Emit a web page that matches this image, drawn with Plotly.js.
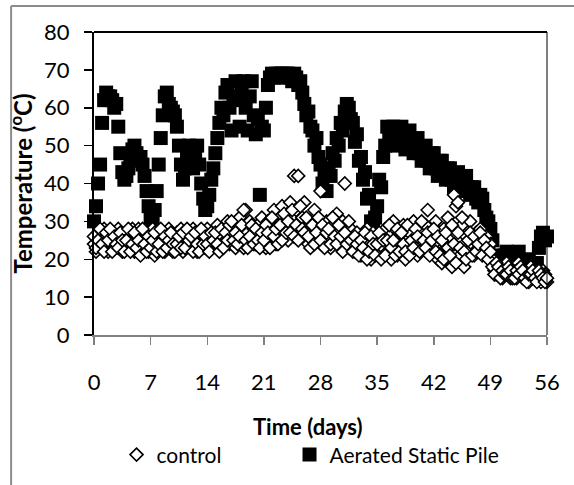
<!DOCTYPE html>
<html><head><meta charset="utf-8">
<script src="https://cdn.plot.ly/plotly-3.0.1.min.js"></script>
<style>html,body{margin:0;padding:0;background:#fff;}#chart{width:574px;height:485px;}</style>
</head><body><div id="chart"></div>
<script>
// readings every 6 hours (0.25 day), day 0 .. day 56
const SAMPLE_STEP_DAYS = 0.25;

const aspTemp = [
  30,34,40,45, 56,62,64,63, 63,62,60,61, 55,48,43,41, 42,44,47,49,
  50,48,46,47, 45,42,38,34, 31,30,33,38, 45,52,58,63, 64,61,60,59,
  58,55,50,45, 41,44,48,50, 47,44,48,50, 45,40,36,33, 34,37,41,44,
  48,52,56,60, 58,64,66,60, 54,62,67,63, 55,66,67,60, 54,63,67,58,
  53,57,37,55, 54,60,66,68, 69,68,69,68, 69,69,68,69, 69,68,67,69,
  68,66,67,64, 61,58,59,55, 54,50,52,47, 45,40,42,38, 44,42,48,46,
  52,50,56,54, 59,61,60,57, 56,51,53,46, 47,41,43,36, 37,30,28,31,
  34,41,39,47, 50,55,53,51, 55,52,50,53, 55,51,49,52, 54,50,48,51,
  52,48,46,49, 50,46,44,48, 48,44,42,46, 46,43,41,44, 44,41,39,42,
  43,40,38,41, 42,39,37,39, 39,36,35,37, 36,33,31,30, 28,25,21,18,
  17,16,18,21, 22,19,17,16, 18,21,22,19, 17,16,18,20, 19,17,16,19,
  23,26,27,25, 26
];

// control pile, probe A
const controlTempA = [
  24,22,27,25, 23,28,26,22, 25,27,23,26, 28,24,22,26, 27,23,25,28,
  22,26,28,24, 23,27,25,22, 26,28,21,24, 27,23,25,22, 26,28,24,22,
  25,27,23,28, 22,26,24,27, 23,28,25,22, 27,24,26,23, 28,25,23,27,
  24,29,26,23, 28,25,30,24, 26,29,23,28, 31,24,23,33, 27,30,25,28,
  24,29,26,31, 27,23,30,25, 28,33,24,29, 26,34,27,30, 25,35,29,42,
  33,42,27,31, 35,28,24,30, 26,33,29,25, 38,27,24,30, 26,23,29,25,
  32,27,24,30, 40,26,23,28, 25,22,27,24, 21,26,23,28, 24,20,27,22,
  26,21,25,23, 28,22,26,20, 30,24,21,27, 23,29,20,25, 27,22,30,24,
  21,28,25,23, 29,33,22,26, 24,30,20,27, 19,28,23,31, 25,18,37,34,
  35,21,29,18, 26,22,30,24, 21,27,23,28, 25,22,26,23, 24,20,17,18,
  16,18,15,17, 19,16,15,18, 17,15,19,16, 15,17,16,14, 18,15,16,17,
  15,14,17,16, 14
];

// control pile, probe B
const controlTempB = [
  26,23,25,28, 24,22,27,25, 28,22,26,24, 23,27,25,22, 25,28,22,24,
  27,23,25,21, 28,24,22,26, 23,25,27,22, 24,28,22,26, 23,25,27,24,
  22,24,26,23, 27,23,28,25, 26,22,27,24, 22,28,24,26, 24,22,27,25,
  27,24,22,28, 23,27,25,29, 30,25,27,24, 26,29,33,25, 23,26,29,24,
  28,25,23,27, 25,29,27,23, 31,26,28,24, 29,25,32,27, 30,27,33,26,
  29,25,34,28, 27,31,26,23, 29,24,27,31, 25,29,23,27, 28,24,31,26,
  24,29,26,22, 27,24,30,25, 22,26,24,21, 25,23,27,20, 22,26,24,21,
  24,27,20,25, 21,25,29,23, 25,21,28,22, 27,24,22,29, 21,25,23,28,
  26,22,30,25, 23,27,21,25, 28,22,26,21, 25,20,27,23, 21,29,24,19,
  27,23,31,22, 20,25,27,21, 26,22,24,27, 21,25,23,20, 22,18,16,19,
  18,15,17,16, 16,18,17,15, 15,17,16,18, 17,15,14,16, 16,17,15,14,
  17,16,15,14, 15
];

const seriesNames = ['control', 'Aerated Static Pile'];
const xTickVals = [0, 7, 14, 21, 28, 35, 42, 49, 56];
const yTickVals = [0, 10, 20, 30, 40, 50, 60, 70, 80];
const xTitle = 'Time (days)';
const yTitle = 'Temperature (<sup>o</sup>C)';

const aspDays = aspTemp.map((_, i) => i * SAMPLE_STEP_DAYS);
const controlDays = controlTempA.map((_, i) => i * SAMPLE_STEP_DAYS)
  .concat(controlTempB.map((_, i) => i * SAMPLE_STEP_DAYS));
const controlTemp = controlTempA.concat(controlTempB);

const FONT = 'Lato, "Open Sans", "DejaVu Sans", sans-serif';

const traces = [
  {
    type: 'scatter', mode: 'markers', name: seriesNames[1],
    x: aspDays, y: aspTemp, cliponaxis: false,
    marker: {symbol: 'square', size: 14, color: '#000000', line: {width: 0}}
  },
  {
    type: 'scatter', mode: 'markers', name: seriesNames[0],
    x: controlDays, y: controlTemp, cliponaxis: false, legendwidth: 128,
    marker: {symbol: 'diamond', size: 10, color: '#ffffff', line: {color: '#000000', width: 1.6}}
  }
];

const layout = {
  width: 574, height: 485,
  margin: {l: 94, r: 27, t: 32, b: 150, pad: 0},
  paper_bgcolor: '#ffffff', plot_bgcolor: '#ffffff',
  font: {family: FONT, color: '#000000', size: 20},
  showlegend: true,
  legend: {
    orientation: 'h', xref: 'container', yref: 'container',
    x: 0.203, xanchor: 'left', y: 0.062, yanchor: 'middle',
    traceorder: 'reversed', itemwidth: 30,
    font: {family: FONT, size: 21, color: '#000000'},
    bgcolor: 'rgba(0,0,0,0)'
  },
  xaxis: {
    range: [0, 56], tickvals: xTickVals, ticktext: xTickVals.map(String),
    ticks: 'outside', ticklen: 8, tickwidth: 1.5, tickcolor: '#808080',
    showline: true, linecolor: '#808080', linewidth: 1.5,
    showgrid: false, zeroline: false,
    tickfont: {family: FONT, size: 22, color: '#000000'},
    ticklabelstandoff: 19
  },
  yaxis: {
    range: [0, 80], tickvals: yTickVals, ticktext: yTickVals.map(String),
    ticks: 'outside', ticklen: 8, tickwidth: 1.5, tickcolor: '#000000',
    showline: true, linecolor: '#000000', linewidth: 2,
    showgrid: false, zeroline: false,
    tickfont: {family: FONT, size: 22, color: '#000000'},
    ticklabelstandoff: 10,
    title: {text: yTitle, font: {family: FONT, size: 24, weight: 'bold', color: '#000000'}, standoff: 5}
  },
  annotations: [
    {text: xTitle, xref: 'paper', yref: 'paper', x: 0.4724, y: -0.3036,
     xanchor: 'center', yanchor: 'middle', showarrow: false,
     font: {family: FONT, size: 22, weight: 'bold', color: '#000000'}}
  ],
  shapes: [
    {type: 'line', xref: 'paper', yref: 'paper', x0: 0, x1: 1, y0: 1, y1: 1, line: {color: '#000000', width: 2}},
    {type: 'line', xref: 'paper', yref: 'paper', x0: 1, x1: 1, y0: 0, y1: 1, line: {color: '#000000', width: 1}},
    {type: 'line', xref: 'paper', yref: 'paper', x0: -0.183, x1: -0.183, y0: -0.5, y1: 1.086, line: {color: '#8c8c8c', width: 2}},
    {type: 'line', xref: 'paper', yref: 'paper', x0: -0.183, x1: 1.07, y0: 1.086, y1: 1.086, line: {color: '#8c8c8c', width: 2}}
  ]
};

Plotly.newPlot('chart', traces, layout, {displayModeBar: false, staticPlot: true});
</script>
</body></html>
